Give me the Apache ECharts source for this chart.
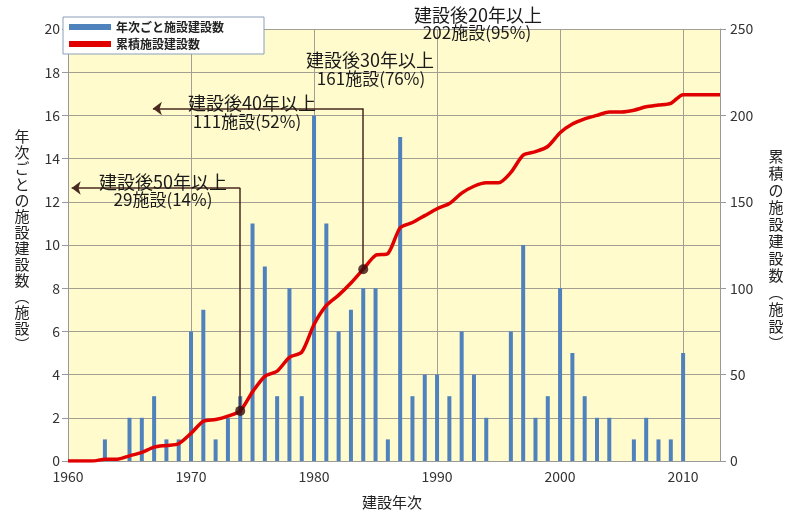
<!DOCTYPE html>
<html><head><meta charset="utf-8">
<script src="https://cdn.jsdelivr.net/npm/echarts@6/dist/echarts.min.js"></script>
<style>html,body{margin:0;padding:0;background:#fff}#c{width:793px;height:514px}</style>
</head><body><div id="c"></div>
<script>
const barYears = [1963,1965,1966,1967,1968,1969,1970,1971,1972,1973,1974,1975,1976,1977,1978,1979,1980,1981,1982,1983,1984,1985,1986,1987,1988,1989,1990,1991,1992,1993,1994,1996,1997,1998,1999,2000,2001,2002,2003,2004,2006,2007,2008,2009,2010];
const barCounts = [1,2,2,3,1,1,6,7,1,2,3,11,9,3,8,3,16,11,6,7,8,8,1,15,3,4,4,3,6,4,2,6,10,2,3,8,5,3,2,2,1,2,1,1,5];
const lineYears = [1960,1961,1962,1963,1964,1965,1966,1967,1968,1969,1970,1971,1972,1973,1974,1975,1976,1977,1978,1979,1980,1981,1982,1983,1984,1985,1986,1987,1988,1989,1990,1991,1992,1993,1994,1995,1996,1997,1998,1999,2000,2001,2002,2003,2004,2005,2006,2007,2008,2009,2010,2011,2012,2013];
const cumulative = [0,0,0,1,1,3,5,8,9,10,16,23,24,26,29,40,49,52,60,63,79,90,96,103,111,119,120,135,138,142,146,149,155,159,161,161,167,177,179,182,190,195,198,200,202,202,203,205,206,207,212,212,212,212];
const leftTicks = [0,2,4,6,8,10,12,14,16,18,20];
const rightTicks = [0,50,100,150,200,250];
const markedPoints = [[1974,29],[1984,111]];
const arrowLevels = [158,204];
const arrowTips = [1960.3,1966.9];

const FONT = '"Noto Sans CJK JP", "Noto Sans", sans-serif';
const chart = echarts.init(document.getElementById('c'));
const annotLines = [];
markedPoints.forEach((p,i)=>{
  annotLines.push([{coord:[p[0],p[1]],symbol:'none'},{coord:[p[0],arrowLevels[i]],symbol:'none'}]);
  annotLines.push([{coord:[p[0],arrowLevels[i]],symbol:'none'},{coord:[arrowTips[i],arrowLevels[i]],symbol:'arrow'}]);
});
function vtext(s){return s.split('').join('\n');}
const txt = (x,y,t,size)=>({type:'text',x:x,y:y,z:10,style:{text:t,font:(size||17)+'px '+FONT,fill:'#1a1a1a',align:'center',verticalAlign:'middle'}});
chart.setOption({
  animation:false,
  textStyle:{fontFamily:FONT},
  grid:{left:68,right:73,top:29,bottom:53,show:true,backgroundColor:'#fffbcc',borderWidth:0},
  legend:{
    orient:'vertical',left:63,top:17,
    backgroundColor:'#fff',borderColor:'#8aa0b8',borderWidth:1,
    padding:[4,40,4,6],itemGap:5,itemWidth:42,itemHeight:6,
    textStyle:{fontSize:12,color:'#222',fontWeight:'bold',fontFamily:FONT},
    data:[{name:'年次ごと施設建設数',icon:'rect'},{name:'累積施設建設数',icon:'rect'}]
  },
  xAxis:{
    type:'value',min:1960,max:2013,interval:10,
    axisLine:{show:true,lineStyle:{color:'#999'}},
    axisTick:{show:false},
    axisLabel:{color:'#333',fontSize:14,margin:9,formatter:v=>v%10===0?String(v):''},
    splitLine:{show:true,lineStyle:{color:'#a39f92',width:1}}
  },
  yAxis:[
    {type:'value',min:0,max:20,interval:2,
     axisLine:{show:true,lineStyle:{color:'#999'}},
     axisTick:{show:true,length:6,lineStyle:{color:'#999'}},
     axisLabel:{color:'#333',fontSize:14,margin:8,formatter:v=>leftTicks.includes(v)?String(v):''},
     splitLine:{show:true,lineStyle:{color:'#a39f92',width:1}}},
    {type:'value',min:0,max:250,interval:50,
     axisLine:{show:true,lineStyle:{color:'#999'}},
     axisTick:{show:true,length:6,lineStyle:{color:'#999'}},
     axisLabel:{color:'#333',fontSize:14,margin:10,formatter:v=>rightTicks.includes(v)?String(v):''},
     splitLine:{show:false}}
  ],
  series:[
    {name:'年次ごと施設建設数',type:'bar',yAxisIndex:0,barWidth:4,
     itemStyle:{color:'#4f81bd'},
     data:barYears.map((y,i)=>[y,barCounts[i]])},
    {name:'累積施設建設数',type:'line',yAxisIndex:1,smooth:0.25,symbol:'none',
     itemStyle:{color:'#e00000'},lineStyle:{color:'#e00000',width:3.5},
     data:lineYears.map((y,i)=>[y,cumulative[i]])},
    {name:'marks',type:'scatter',yAxisIndex:1,symbolSize:10,z:5,
     itemStyle:{color:'#3a0c0c'},
     data:markedPoints,
     markLine:{silent:true,symbolSize:[10,9],animation:false,label:{show:false},
       lineStyle:{color:'#4a2a20',width:1.5,type:'solid'},data:annotLines}}
  ],
  graphic:[
    txt(163,182,'建設後50年以上',18), txt(163,200,'29施設(14%)',17),
    txt(252,103,'建設後40年以上',18), txt(247,122,'111施設(52%)',17),
    txt(370,60,'建設後30年以上',18), txt(371,79,'161施設(76%)',17),
    txt(478,15,'建設後20年以上',18), txt(477,33,'202施設(95%)',17),
    {type:'text',x:22,y:240,style:{text:vtext('年次ごとの施設建設数︵施設︶'),font:'15px '+FONT,fill:'#222',align:'center',verticalAlign:'middle',lineHeight:16}},
    {type:'text',x:776,y:250,style:{text:vtext('累積の施設建設数︵施設︶'),font:'15px '+FONT,fill:'#222',align:'center',verticalAlign:'middle',lineHeight:17}},
    {type:'text',x:392,y:502,style:{text:'建設年次',font:'15px '+FONT,fill:'#222',align:'center',verticalAlign:'middle'}}
  ]
});
</script></body></html>
